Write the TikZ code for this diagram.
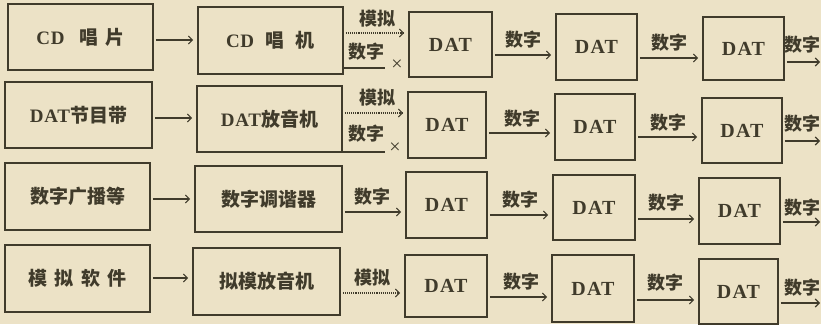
\documentclass[tikz,border=0pt]{standalone}
\usepackage{fontspec}
\setmainfont{Liberation Serif}
\newfontfamily\cjk{Noto Sans CJK SC}
\usetikzlibrary{arrows.meta}
\definecolor{paper}{HTML}{ECE2C6}
\definecolor{ink}{HTML}{403B2B}
\newcommand\lat[1]{{\rmfamily\bfseries\addfontfeature{LetterSpace=4}#1}}
\begin{document}
\begin{tikzpicture}[x=1pt,y=-1pt,
 box/.style={draw=ink, line width=1.6pt, inner sep=0pt, text=ink, font=\cjk\bfseries\fontsize{19}{20}\selectfont},
 datbox/.style={box, font=\fontsize{20}{20}\selectfont\bfseries\addfontfeature{LetterSpace=6}},
 arr/.style={draw=ink, line width=1.1pt, -{Straight Barb[length=4pt,width=8pt]}, shorten <=2pt, shorten >=4pt},
 darr/.style={arr, densely dotted},
 plain/.style={draw=ink, line width=1.1pt},
 lbl/.style={text=ink, font=\cjk\bfseries\fontsize{18}{20}\selectfont, inner sep=0pt},
 cross/.style={text=ink, font=\fontsize{20}{20}\selectfont, inner sep=0pt},
]
\fill[paper] (0,0) rectangle (821,324);
\useasboundingbox (0,0) rectangle (821,324);

% ---------- Row 1 ----------
\node[box, minimum width=145pt, minimum height=66pt] (A1) at (80.5,37) {\lat{CD}\hspace{0.8em}唱\hspace{0.35em}片};
\node[box, minimum width=145pt, minimum height=67pt] (B1) at (270.5,40.5) {\lat{CD}\hspace{0.6em}唱\hspace{0.6em}机};
\node[datbox, minimum width=83pt, minimum height=65pt] (C1) at (450.5,44.5) {DAT};
\node[datbox, minimum width=81pt, minimum height=66pt] (D1) at (596.5,47) {DAT};
\node[datbox, minimum width=81pt, minimum height=63pt] (E1) at (743.5,48.5) {DAT};

% ---------- Row 2 ----------
\node[box, minimum width=147pt, minimum height=66pt] (A2) at (78.5,115) {\lat{DAT}节目带};
\node[box, minimum width=145pt, minimum height=66pt] (B2) at (269.5,119) {\lat{DAT}放音机};
\node[datbox, minimum width=78pt, minimum height=66pt] (C2) at (447,125) {DAT};
\node[datbox, minimum width=80pt, minimum height=66pt] (D2) at (595,127) {DAT};
\node[datbox, minimum width=80pt, minimum height=65pt] (E2) at (742,130.5) {DAT};

% ---------- Row 3 ----------
\node[box, minimum width=145pt, minimum height=67pt] (A3) at (77.5,196.5) {数字广播等};
\node[box, minimum width=147pt, minimum height=66pt] (B3) at (268.5,199) {数字调谐器};
\node[datbox, minimum width=81pt, minimum height=66pt] (C3) at (446.5,205) {DAT};
\node[datbox, minimum width=82pt, minimum height=65pt] (D3) at (594,207.5) {DAT};
\node[datbox, minimum width=81pt, minimum height=66pt] (E3) at (739.5,211) {DAT};

% ---------- Row 4 ----------
\node[box, minimum width=145pt, minimum height=67pt] (A4) at (77.5,278.5) {模\hspace{0.4em}拟\hspace{0.4em}软\hspace{0.4em}件};
\node[box, minimum width=147pt, minimum height=67pt] (B4) at (266.5,281.5) {拟模放音机};
\node[datbox, minimum width=82pt, minimum height=62pt] (C4) at (446,286) {DAT};
\node[datbox, minimum width=82pt, minimum height=67pt] (D4) at (593,288.5) {DAT};
\node[datbox, minimum width=79pt, minimum height=65pt] (E4) at (738.5,291.5) {DAT};

% ---------- connectors row 1 ----------
\draw[arr] (A1.east |- 0,40) -- (B1.west |- 0,40);
\draw[darr] (B1.east |- 0,33) -- (C1.west |- 0,33);
\node[lbl] (m1) at (377,19) {模拟};
\coordinate (s1) at (385,68);
\draw[plain] (B1.east |- s1) -- (s1);
\node[lbl] (d1) at (366,52) {数字};
\node[cross] (x1) at (397,65) {×};
\draw[arr] (C1.east |- 0,55) -- (D1.west |- 0,55);
\node[lbl] (p1) at (523,40) {数字};
\draw[arr] (D1.east |- 0,58) -- (E1.west |- 0,58);
\node[lbl] (q1) at (669,43) {数字};
\coordinate (o1) at (821,62);
\draw[arr, shorten >=1pt] (E1.east |- o1) -- (o1);
\node[lbl] (r1) at (802,45) {数字};

% ---------- connectors row 2 ----------
\draw[arr] (A2.east |- 0,118) -- (B2.west |- 0,118);
\draw[darr] (B2.east |- 0,113) -- (C2.west |- 0,113);
\node[lbl] (m2) at (377,98) {模拟};
\coordinate (s2) at (385,152);
\draw[plain] (B2.east |- s2) -- (s2);
\node[lbl] (d2) at (366,134) {数字};
\node[cross] (x2) at (395,148) {×};
\draw[arr] (C2.east |- 0,133) -- (D2.west |- 0,133);
\node[lbl] (p2) at (522,119) {数字};
\draw[arr] (D2.east |- 0,137) -- (E2.west |- 0,137);
\node[lbl] (q2) at (668,123) {数字};
\coordinate (o2) at (821,141);
\draw[arr, shorten >=1pt] (E2.east |- o2) -- (o2);
\node[lbl] (r2) at (802,124) {数字};

% ---------- connectors row 3 ----------
\draw[arr] (A3.east |- 0,199) -- (B3.west |- 0,199);
\draw[arr] (B3.east |- 0,212) -- (C3.west |- 0,212);
\node[lbl] (d3) at (372,197) {数字};
\draw[arr] (C3.east |- 0,215) -- (D3.west |- 0,215);
\node[lbl] (p3) at (520,200) {数字};
\draw[arr] (D3.east |- 0,219) -- (E3.west |- 0,219);
\node[lbl] (q3) at (666,203) {数字};
\coordinate (o3) at (821,222);
\draw[arr, shorten >=1pt] (E3.east |- o3) -- (o3);
\node[lbl] (r3) at (802,208) {数字};

% ---------- connectors row 4 ----------
\draw[arr] (A4.east |- 0,278) -- (B4.west |- 0,278);
\draw[darr] (B4.east |- 0,293) -- (C4.west |- 0,293);
\node[lbl] (m4) at (372,278) {模拟};
\draw[arr] (C4.east |- 0,297) -- (D4.west |- 0,297);
\node[lbl] (p4) at (521,282) {数字};
\draw[arr] (D4.east |- 0,300) -- (E4.west |- 0,300);
\node[lbl] (q4) at (665,283) {数字};
\coordinate (o4) at (821,303);
\draw[arr, shorten >=1pt] (E4.east |- o4) -- (o4);
\node[lbl] (r4) at (802,288) {数字};
\end{tikzpicture}
\end{document}
